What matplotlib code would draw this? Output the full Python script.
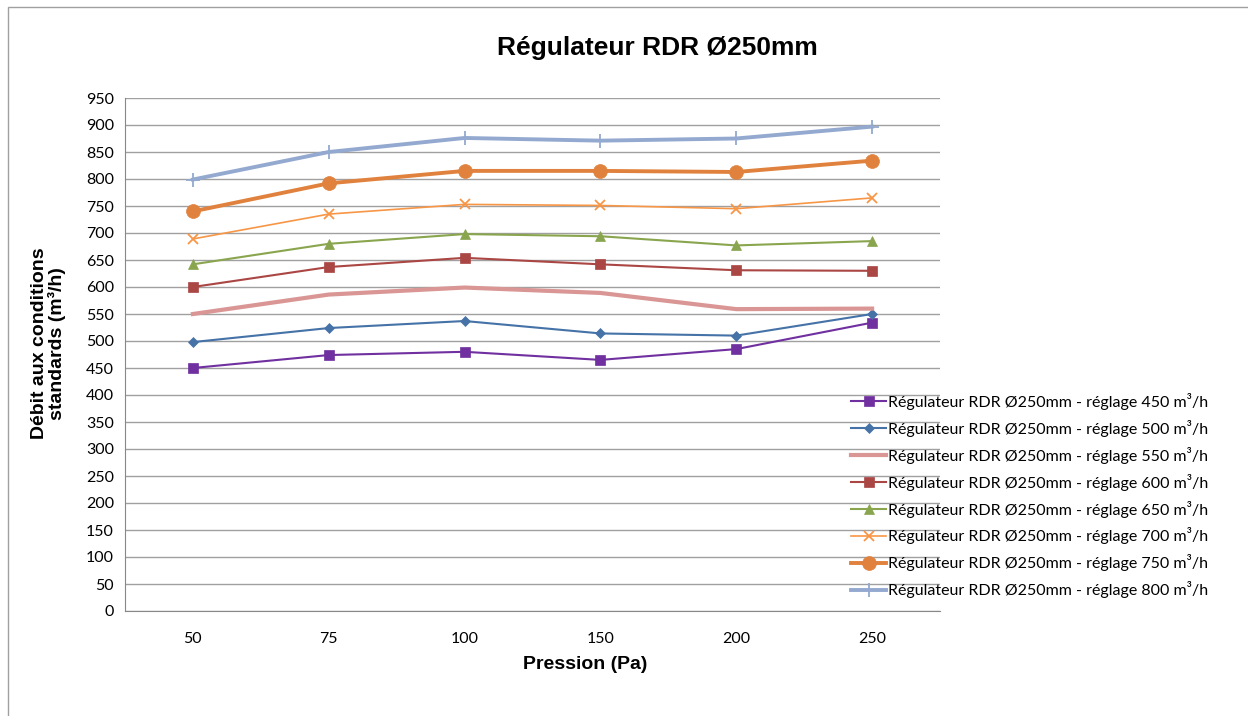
import matplotlib
matplotlib.use("Agg")
import matplotlib.pyplot as plt
from matplotlib.patches import Rectangle

pressions = ["50", "75", "100", "150", "200", "250"]

r450 = [450, 474, 480, 465, 485, 534]
r500 = [498, 524, 537, 514, 510, 550]
r550 = [550, 586, 599, 589, 559, 560]
r600 = [600, 637, 654, 642, 631, 630]
r650 = [642, 680, 698, 694, 677, 685]
r700 = [689, 735, 753, 751, 745, 765]
r750 = [740, 792, 815, 815, 813, 834]
r800 = [799, 850, 876, 871, 875, 897]

reglages = ["450", "500", "550", "600", "650", "700", "750", "800"]
series = [r450, r500, r550, r600, r650, r700, r750, r800]

# color, marker, markersize, linewidth
styles = [
    ("#7030A0", "s", 7, 1.5),
    ("#4572A7", "D", 5, 1.5),
    ("#D99694", None, 0, 3.0),
    ("#AA4643", "s", 7, 1.5),
    ("#89A54E", "^", 7, 1.5),
    ("#F79646", "x", 7, 1.2),
    ("#E0823D", "o", 10, 2.8),
    ("#93A9CF", "+", 10, 2.8),
]

fig = plt.figure(figsize=(12.48, 7.16), dpi=100)
fig.patches.append(Rectangle((8 / 1248, -0.01), 1.0, 1 - 7 / 716 + 0.01,
                             transform=fig.transFigure, fill=False,
                             edgecolor="#A0A0A0", linewidth=1.0))

ax = fig.add_axes([125 / 1248, 1 - 611 / 716, 815 / 1248, 513 / 716])
x = list(range(len(pressions)))
for vals, reg, (col, mk, ms, lw) in zip(series, reglages, styles):
    ax.plot(x, vals, color=col, marker=mk, markersize=ms, linewidth=lw,
            markeredgewidth=1.3 if mk in ("x", "+") else 0.5,
            markeredgecolor=col,
            label="Régulateur RDR Ø250mm - réglage " + reg + " m³/h")

ax.set_xlim(-0.5, 5.5)
ax.set_ylim(0, 950)
ax.set_yticks(range(0, 951, 50))
ax.set_xticks(x)
ax.set_xticklabels(pressions)
ax.grid(axis="y", color="#A0A0A0", linewidth=1.0)
ax.set_axisbelow(True)
for s in ("top", "right"):
    ax.spines[s].set_visible(False)
for s in ("left", "bottom"):
    ax.spines[s].set_color("#888888")
ax.tick_params(length=0, labelsize=11.5, pad=8)
for lab in ax.get_xticklabels() + ax.get_yticklabels():
    lab.set_fontfamily("Lato")
ax.tick_params(axis="x", pad=15)

fig.text(0.527, 0.933, "Régulateur RDR Ø250mm", ha="center", va="center",
         fontsize=19, fontweight="bold", family="Liberation Sans")
fig.text(0.469, 0.072, "Pression (Pa)", ha="center", va="center",
         fontsize=14, fontweight="bold", family="Liberation Sans")
fig.text(0.039, 0.52, "Débit aux conditions\nstandards (m³/h)", ha="center",
         va="center", rotation=90, fontsize=14, fontweight="bold",
         family="Liberation Sans", linespacing=1.0)

leg = ax.legend(loc="upper left", bbox_to_anchor=(843 / 1248, 1 - 385 / 716),
                bbox_transform=fig.transFigure, frameon=False,
                prop={"family": "Lato", "size": 11.5}, handlelength=2.2,
                handletextpad=0.1, labelspacing=0.62, borderpad=0)

fig.savefig("out.png", dpi=100)
